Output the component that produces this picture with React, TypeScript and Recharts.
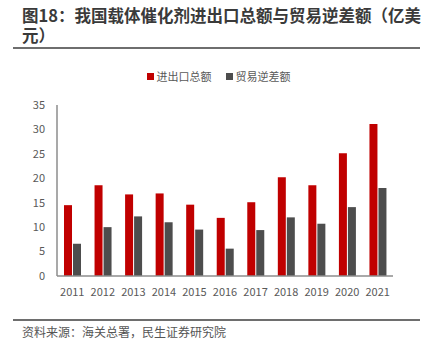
import { BarChart, Bar, XAxis, YAxis, Legend } from "recharts";

const years = ["2011", "2012", "2013", "2014", "2015", "2016", "2017", "2018", "2019", "2020", "2021"];
const tradeTotal = [14.5, 18.6, 16.7, 16.9, 14.6, 11.9, 15.1, 20.2, 18.6, 25.1, 31.1];
const tradeDeficit = [6.6, 10.0, 12.2, 11.0, 9.5, 5.6, 9.4, 12.0, 10.7, 14.1, 18.0];
const yTicks = [0, 5, 10, 15, 20, 25, 30, 35];
const seriesNames = ["进出口总额", "贸易逆差额"];

const data = years.map((y, i) => ({
  year: y,
  total: tradeTotal[i],
  deficit: tradeDeficit[i],
}));

const FONT = '"Noto Sans CJK SC", "Noto Sans", sans-serif';

// 图例：方块 + 文字，按系列顺序排列
const LegendContent = ({ payload }: any) => {
  const items = [...(payload || [])].sort(
    (a: any, b: any) => seriesNames.indexOf(a.value) - seriesNames.indexOf(b.value)
  );
  return (
    <div
      style={{
        display: "flex",
        justifyContent: "center",
        gap: 14,
        fontSize: 11,
        color: "#595959",
        paddingLeft: 27,
      }}
    >
      {items.map((p: any) => (
        <span key={p.value} style={{ display: "flex", alignItems: "center" }}>
          <span style={{ width: 7, height: 7, background: p.color, marginRight: 3 }} />
          {p.value}
        </span>
      ))}
    </div>
  );
};

const titleStyle = {
  position: "absolute" as const,
  left: 22,
  fontSize: 16.5,
  fontWeight: 700,
  color: "#3a3a3a",
  lineHeight: 1,
  whiteSpace: "nowrap" as const,
};

export default function App() {
  return (
    <div
      style={{
        position: "absolute",
        left: 0,
        top: 0,
        width: 425,
        height: 342,
        background: "#fff",
        fontFamily: FONT,
        overflow: "hidden",
      }}
    >
      <div style={{ ...titleStyle, top: 7 }}>图18：我国载体催化剂进出口总额与贸易逆差额（亿美</div>
      <div style={{ ...titleStyle, top: 27 }}>元）</div>
      <div style={{ position: "absolute", left: 13, top: 47, width: 407, height: 2, background: "#6e6e6e" }} />

      <div style={{ position: "absolute", left: 0, top: 60 }}>
        <BarChart
          width={425}
          height={240}
          data={data}
          barSize={8}
          barGap={1}
          margin={{ top: 29, right: 32, bottom: 0, left: 17 }}
        >
          <Legend verticalAlign="top" align="center" content={<LegendContent />} wrapperStyle={{ top: 8 }} />
          <XAxis
            dataKey="year"
            tickLine={false}
            axisLine={{ stroke: "#8c8c8c", strokeWidth: 1.5 }}
            tick={{ fill: "#595959", fontSize: 11 }}
            height={24}
            dy={4}
          />
          <YAxis
            domain={[0, 35]}
            ticks={yTicks}
            width={40}
            tickLine={false}
            axisLine={{ stroke: "#8c8c8c", strokeWidth: 1.5 }}
            tick={{ fill: "#595959", fontSize: 11 }}
            dx={-4}
          />
          <Bar dataKey="total" name="进出口总额" fill="#c00000" isAnimationActive={false} />
          <Bar dataKey="deficit" name="贸易逆差额" fill="#4d4d4d" isAnimationActive={false} />
        </BarChart>
      </div>

      <div style={{ position: "absolute", left: 13, top: 319, width: 407, height: 2, background: "#6e6e6e" }} />
      <div style={{ position: "absolute", left: 22, top: 323, fontSize: 12, color: "#555" }}>
        资料来源：海关总署，民生证券研究院
      </div>
    </div>
  );
}
